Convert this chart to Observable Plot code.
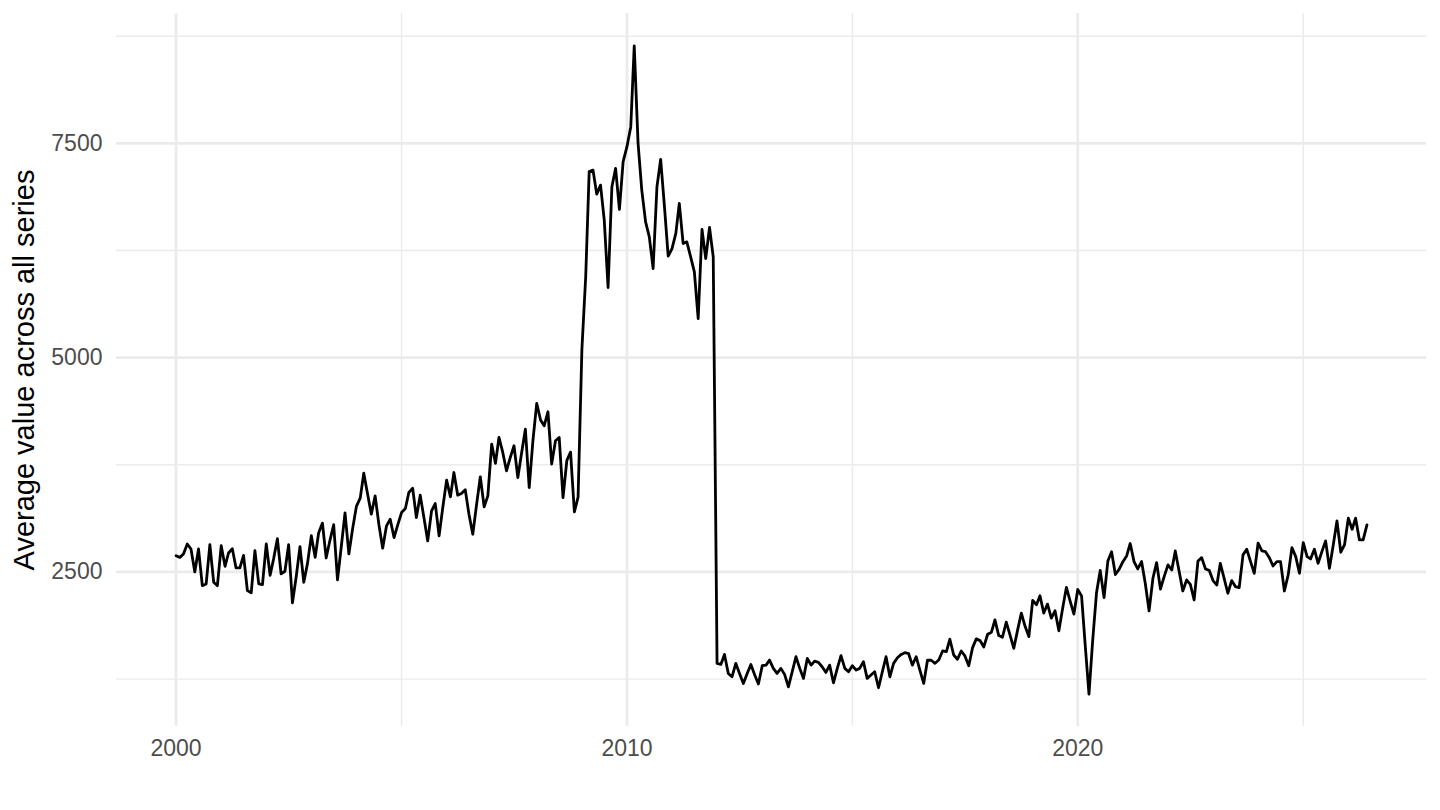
<!DOCTYPE html>
<html>
<head>
<meta charset="utf-8">
<script src="https://cdn.jsdelivr.net/npm/d3@7"></script>
<script src="https://cdn.jsdelivr.net/npm/@observablehq/plot@0.6"></script>
<style>
  html, body { margin: 0; padding: 0; background: #fff; }
</style>
</head>
<body>
<div id="chart"></div>
<script>
// monthly averages, first value is January 2000
const startYear = 2000;

const values2000s = [
  2690, 2670, 2710, 2826, 2768, 2500, 2768, 2340, 2360, 2818, 2380, 2340,
  2806, 2566, 2721, 2770, 2547, 2547, 2694, 2283, 2256, 2748, 2360, 2352,
  2826, 2461, 2650, 2888, 2477, 2508, 2818, 2139, 2450, 2795, 2380, 2600,
  2923, 2670, 2954, 3070, 2663, 2870, 3051, 2407, 2800, 3190, 2710, 3000,
  3264, 3361, 3652, 3407, 3174, 3388, 3057, 2777, 3038, 3115, 2901, 3050,
  3193, 3240, 3427, 3477, 3135, 3396, 3135, 2862, 3213, 3298, 2921, 3252,
  3571, 3376, 3660, 3396, 3415, 3458, 3174, 2940, 3290, 3610, 3260, 3388,
  3991, 3766, 4069, 3894, 3680, 3836, 3972, 3602, 3894, 4166, 3485, 4030,
  4466, 4272, 4205, 4369, 3758, 4030, 4069, 3368, 3800, 3898, 3200, 3372,
  5100, 5950, 7170, 7188, 6908, 7013, 6604, 5818, 6994, 7208, 6729, 7286
];

const values2010s = [
  7461, 7695, 8637, 7500, 6955, 6585, 6410, 6040, 6994, 7313, 6760, 6184,
  6273, 6449, 6799, 6332, 6351, 6176, 6001, 5456, 6495, 6157, 6519, 6176,
  1433, 1421, 1538, 1316, 1277, 1433, 1316, 1199, 1316, 1421, 1297, 1192,
  1406, 1413, 1472, 1375, 1316, 1375, 1305, 1160, 1336, 1511, 1375, 1258,
  1491, 1413, 1460, 1445, 1394, 1328, 1413, 1207, 1375, 1523, 1375, 1336,
  1406, 1355, 1375, 1452, 1258, 1297, 1336, 1149, 1336, 1511, 1277, 1433,
  1499, 1538, 1558, 1546, 1413, 1511, 1355, 1199, 1472, 1470, 1434, 1473,
  1578, 1570, 1715, 1531, 1481, 1578, 1520, 1406, 1617, 1719, 1699, 1625,
  1773, 1797, 1941, 1758, 1738, 1914, 1766, 1609, 1824, 2020, 1863, 1746,
  2168, 2117, 2223, 2020, 2125, 1961, 2047, 1813, 2078, 2320, 2156, 2008
];

const values2020s = [
  2295, 2220, 1655, 1075, 1700, 2257, 2517, 2202, 2627, 2735, 2470, 2530,
  2620, 2690, 2832, 2620, 2535, 2621, 2368, 2045, 2426, 2609, 2301, 2445,
  2582, 2523, 2745, 2512, 2278, 2407, 2356, 2173, 2628, 2667, 2535, 2519,
  2399, 2348, 2601, 2426, 2251, 2399, 2329, 2317, 2699, 2765, 2621, 2484,
  2835, 2745, 2737, 2667, 2570, 2621, 2621, 2278, 2465, 2784, 2679, 2484,
  2843, 2679, 2652, 2765, 2601, 2737, 2862, 2543, 2815, 3096, 2730, 2815,
  3127, 2998, 3127, 2874, 2874, 3049
];

const majorYears = [2000, 2010, 2020];
const minorYears = [2005, 2015, 2025];
const majorY = [2500, 5000, 7500];
const minorY = [1250, 3750, 6250, 8750];
const yTitle = "Average value across all series";

const values = [...values2000s, ...values2010s, ...values2020s];
const data = values.map((v, i) => ({date: new Date(Date.UTC(startYear, i, 1)), value: v}));

// ggplot style 5% padding on both scales
const pad = (lo, hi) => [lo - (hi - lo) * 0.05, hi + (hi - lo) * 0.05];
const [t0, t1] = pad(+data[0].date, +data[data.length - 1].date);
const [v0, v1] = pad(d3.min(values), d3.max(values));
const yr = (y) => new Date(Date.UTC(y, 0, 1));

const gridColor = "#ebebeb";
const tickColor = "#4d4d4d";

const chart = Plot.plot({
  width: 1440,
  height: 810,
  marginLeft: 116,
  marginRight: 14,
  marginTop: 13,
  marginBottom: 84,
  style: {fontFamily: "'Liberation Sans', Arial, sans-serif", background: "#fff", overflow: "visible"},
  x: {type: "utc", domain: [new Date(t0), new Date(t1)]},
  y: {domain: [v0, v1]},
  marks: [
    Plot.ruleX(minorYears.map(yr), {stroke: gridColor, strokeWidth: 1.4}),
    Plot.ruleY(minorY, {stroke: gridColor, strokeWidth: 1.4}),
    Plot.ruleX(majorYears.map(yr), {stroke: gridColor, strokeWidth: 2.7}),
    Plot.ruleY(majorY, {stroke: gridColor, strokeWidth: 2.7}),
    Plot.axisX(majorYears.map(yr), {
      tickSize: 0, tickPadding: 13, fontSize: 23, fill: tickColor,
      tickFormat: d3.utcFormat("%Y"), label: null
    }),
    Plot.axisY(majorY, {
      tickSize: 0, tickPadding: 14, fontSize: 23, fill: tickColor,
      tickFormat: (d) => String(d), label: null
    }),
    Plot.line(data, {x: "date", y: "value", stroke: "black", strokeWidth: 2.8}),
    Plot.text([yTitle], {
      frameAnchor: "left", textAnchor: "middle", rotate: -90, dx: -92,
      fontSize: 29, fill: "black"
    })
  ]
});

d3.select("#chart").append(() => chart);
</script>
</body>
</html>
